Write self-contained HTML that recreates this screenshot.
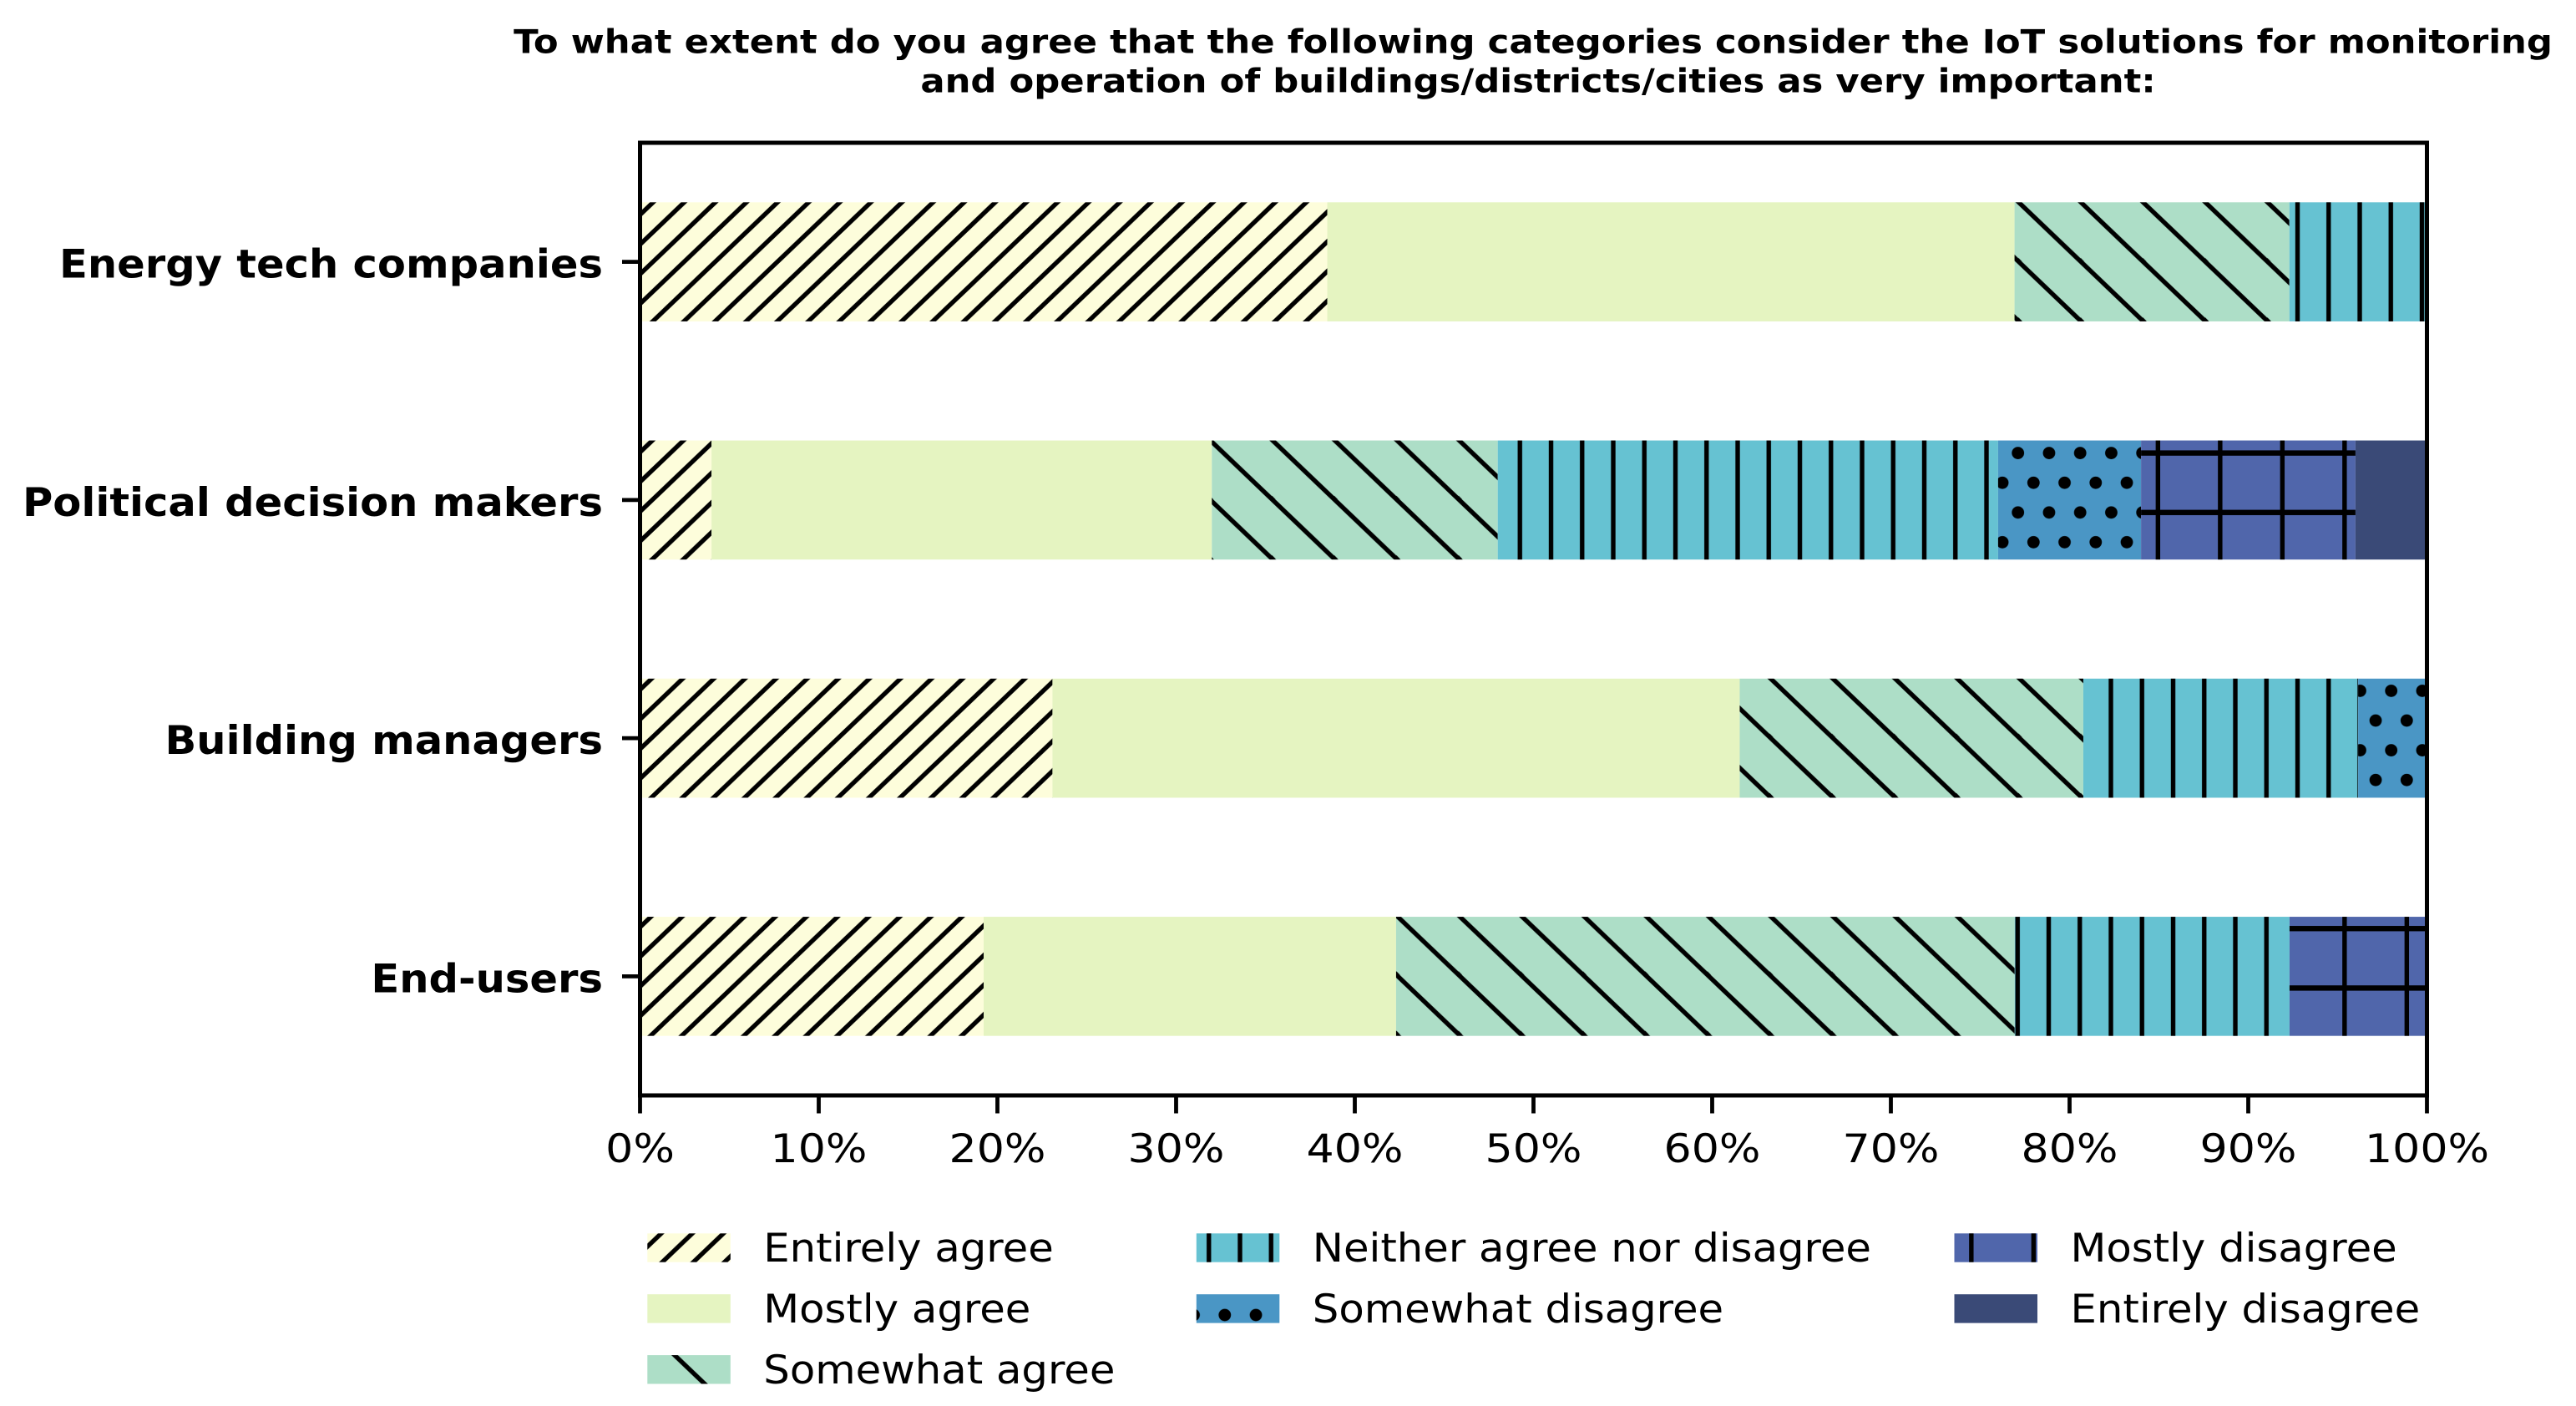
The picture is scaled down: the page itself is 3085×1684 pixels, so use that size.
<!DOCTYPE html>
<html lang="en">
<head>
<meta charset="utf-8">
<title>IoT solutions importance survey chart</title>
<style>
html,body{margin:0;padding:0;background:#fff;width:3085px;height:1684px;overflow:hidden}
svg{display:block}
text{font-family:"DejaVu Sans","Liberation Sans",sans-serif;fill:#000}
</style>
</head>
<body>
<svg id="chart" xmlns="http://www.w3.org/2000/svg" width="3085" height="1684" viewBox="0 0 3085 1684">
  <defs>
    <pattern id="hatch-forward" patternUnits="userSpaceOnUse" x="745.25" y="242" width="37.25" height="35.55">
      <path d="M-3.725,39.105L40.975,-3.555M-3.725,3.555L3.725,-3.555M33.525,39.105L40.975,32" stroke="#000" stroke-width="5.4" fill="none"/>
    </pattern>
    <pattern id="hatch-back" patternUnits="userSpaceOnUse" x="2417.3" y="242" width="74.5" height="71.2">
      <path d="M-7.45,-7.12L81.95,78.32M-7.45,63.08L7.45,78.32M67.05,-7.12L81.95,7.12" stroke="#000" stroke-width="5.4" fill="none"/>
    </pattern>
    <pattern id="hatch-vertical" patternUnits="userSpaceOnUse" x="2733" y="0" width="37.25" height="71.2">
      <rect x="15.8" y="0" width="5.4" height="71.2" fill="#000"/>
    </pattern>
    <pattern id="hatch-dots" patternUnits="userSpaceOnUse" x="2406.7" y="532.6" width="37.25" height="71.2">
      <circle cx="10" cy="10" r="7.4" fill="#000"/>
      <circle cx="28.6" cy="45.6" r="7.4" fill="#000"/>
    </pattern>
    <pattern id="hatch-grid" patternUnits="userSpaceOnUse" x="2547.05" y="507" width="74.5" height="71.2">
      <rect x="34.6" y="0" width="5.4" height="71.2" fill="#000"/>
      <rect x="0" y="32.4" width="74.5" height="6.4" fill="#000"/>
    </pattern>
  </defs>
  <rect x="0" y="0" width="3085" height="1684" fill="#fff"/>

  <text font-size="38.8" font-weight="700" text-anchor="middle" transform="translate(1836,63.3) scale(1.117,1)">To what extent do you agree that the following categories consider the IoT solutions for monitoring</text>
  <text font-size="38.8" font-weight="700" text-anchor="middle" transform="translate(1842,110.7) scale(1.117,1)">and operation of buildings/districts/cities as very important:</text>

  <g id="bars"></g>
  <g id="axes"></g>
  <g id="legend"></g>
</svg>
<script>
const categories = ['Energy tech companies', 'Political decision makers', 'Building managers', 'End-users'];
const entirelyAgree = [38.46, 4, 23.08, 19.23];
const mostlyAgree = [38.46, 28, 38.46, 23.08];
const somewhatAgree = [15.38, 16, 19.23, 34.62];
const neitherAgree = [7.69, 28, 15.38, 15.38];
const somewhatDisagree = [0, 8, 3.85, 0];
const mostlyDisagree = [0, 12, 0, 7.69];
const entirelyDisagree = [0, 4, 0, 0];
const seriesNames = ['Entirely agree', 'Mostly agree', 'Somewhat agree', 'Neither agree nor disagree', 'Somewhat disagree', 'Mostly disagree', 'Entirely disagree'];
const xTickValues = [0, 10, 20, 30, 40, 50, 60, 70, 80, 90, 100];
const xTickLabels = ['0%', '10%', '20%', '30%', '40%', '50%', '60%', '70%', '80%', '90%', '100%'];

const seriesValues = [entirelyAgree, mostlyAgree, somewhatAgree, neitherAgree, somewhatDisagree, mostlyDisagree, entirelyDisagree];
const seriesColors = ['#FDFDDB', '#E5F4C1', '#ADDEC7', '#66C2D2', '#4A96C5', '#5066AB', '#3A4A77'];
const seriesHatches = ['hatch-forward', '', 'hatch-back', 'hatch-vertical', 'hatch-dots', 'hatch-grid', ''];

const NS = 'http://www.w3.org/2000/svg';
const plotLeft = 766.5, plotRight = 2906.5, plotTop = 171, plotBottom = 1312;
const barBand = 0.5;
function xScale(v) { return plotLeft + (plotRight - plotLeft) * v / 100; }
function yScale(i) { return plotTop + (plotBottom - plotTop) * (i + 0.5) / categories.length; }
function bandHeight() { return (plotBottom - plotTop) / categories.length * barBand; }
function slug(s) { return s.toLowerCase().replace(/[^a-z0-9]+/g, '-'); }
function make(tag, parent, attrs) {
  const el = document.createElementNS(NS, tag);
  for (const k in attrs) el.setAttribute(k, attrs[k]);
  parent.appendChild(el);
  return el;
}

const barsGroup = document.getElementById('bars');
categories.forEach(function (cat, i) {
  let cum = 0;
  seriesValues.forEach(function (vals, s) {
    const v = vals[i];
    if (v > 0) {
      const geom = { x: xScale(cum), y: yScale(i) - bandHeight() / 2, width: xScale(cum + v) - xScale(cum), height: bandHeight() };
      const bar = make('rect', barsGroup, Object.assign({ fill: seriesColors[s] }, geom));
      
      
      if (seriesHatches[s]) {
        const hatch = make('rect', barsGroup, Object.assign({ fill: 'url(#' + seriesHatches[s] + ')' }, geom));
        
        
      }
    }
    cum += v;
  });
});

const axesGroup = document.getElementById('axes');
const frame = make('rect', axesGroup, { x: plotLeft, y: plotTop, width: plotRight - plotLeft, height: plotBottom - plotTop, fill: 'none', stroke: '#000', 'stroke-width': 5 });



xTickValues.forEach(function (v, i) {
  const tick = make('line', axesGroup, { x1: xScale(v), x2: xScale(v), y1: plotBottom, y2: plotBottom + 21.5, stroke: '#000', 'stroke-width': 4.8 });
  
  
  const label = make('text', axesGroup, { 'font-size': 47, 'text-anchor': 'middle', transform: 'translate(' + xScale(v) + ',1392) scale(1.11,1)' });
  label.textContent = xTickLabels[i];
  
  
});

categories.forEach(function (cat, i) {
  const tick = make('line', axesGroup, { x1: plotLeft - 21.5, x2: plotLeft, y1: yScale(i), y2: yScale(i), stroke: '#000', 'stroke-width': 4.8 });
  
  
  const label = make('text', axesGroup, { 'font-size': 47, 'font-weight': 700, 'text-anchor': 'end', transform: 'translate(722,' + (yScale(i) + 19) + ') scale(1.055,1)' });
  label.textContent = cat;
  
  
});

const legendGroup = document.getElementById('legend');
const legendColLeft = [775.3, 1432.8, 2340.5];
const legendColRows = [3, 2, 2];
let legendIndex = 0;
legendColRows.forEach(function (rows, col) {
  for (let row = 0; row < rows; row++) {
    const s = legendIndex++;
    const geom = { x: legendColLeft[col], y: 1477.3 + row * 72.9, width: 99.5, height: 34.4 };
    const swatch = make('rect', legendGroup, Object.assign({ fill: seriesColors[s] }, geom));
    
    
    if (seriesHatches[s]) {
      const hatch = make('rect', legendGroup, Object.assign({ fill: 'url(#' + seriesHatches[s] + ')' }, geom));
      
      
    }
    const text = make('text', legendGroup, { 'font-size': 47.5, transform: 'translate(' + (legendColLeft[col] + 139) + ',' + (1511 + row * 72.9) + ') scale(1.046,1)' });
    text.textContent = seriesNames[s];
    
    
  }
});
</script>
</body>
</html>
